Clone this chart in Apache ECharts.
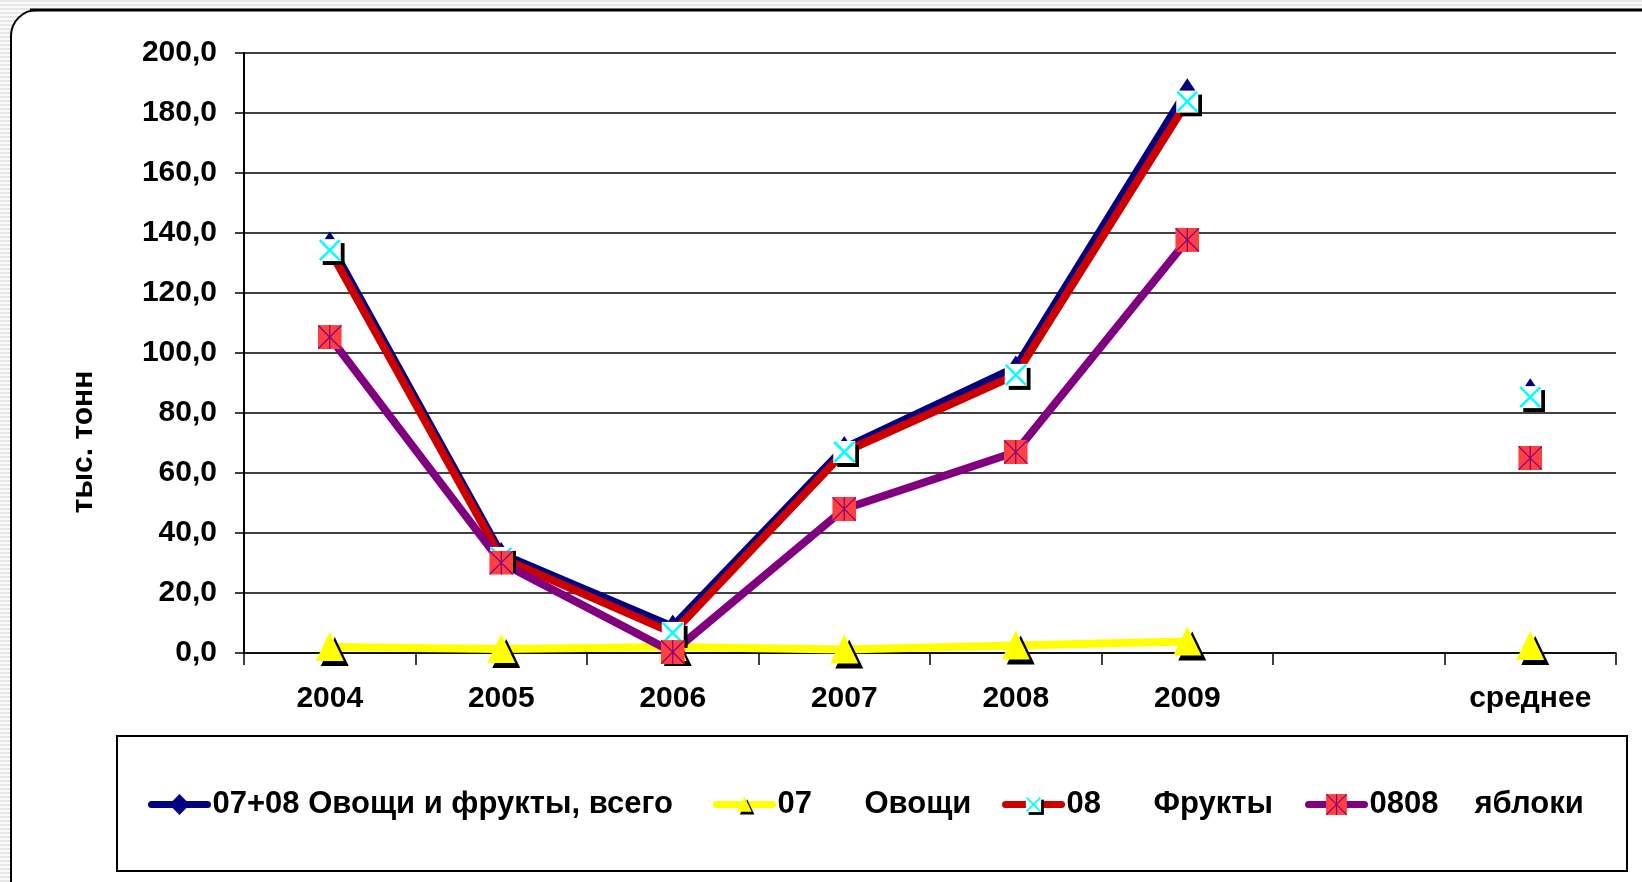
<!DOCTYPE html>
<html>
<head>
<meta charset="utf-8">
<script src="https://cdn.jsdelivr.net/npm/echarts@6/dist/echarts.min.js"></script>
<style>
  html, body { margin: 0; padding: 0; }
  body {
    background: repeating-linear-gradient(180deg, #e6e6e6 0px, #e6e6e6 2px, #fafafa 2px, #fafafa 4px);
  }
  #chart { width: 1642px; height: 882px; }
</style>
</head>
<body>
<div id="chart"></div>
<script>
// values, тыс. тонн
const categories = ['2004', '2005', '2006', '2007', '2008', '2009', '', 'среднее'];
const totalVals = [136.5, 33.0, 8.8, 68.3, 95.2, 187.6, null, 87.6];
const vegVals = [2.0, 1.3, 2.0, 1.2, 2.5, 3.8, null, 2.3];
const fruitVals = [134.3, 31.7, 6.7, 67.0, 92.7, 183.8, null, 85.3];
const appleVals = [105.3, 30.1, 0.3, 48.0, 67.0, 137.7, null, 65.0];
const seriesNames = ['07+08 Овощи и фрукты, всего', '07 Овощи', '08 Фрукты', '0808 яблоки'];

const font = 'Arial, "Liberation Sans", sans-serif';

function svgSymbol(svg) {
  return 'image://data:image/svg+xml;charset=utf-8,' + encodeURIComponent(svg);
}

// excel-like markers
const fruitMark = svgSymbol(
  '<svg xmlns="http://www.w3.org/2000/svg" width="30" height="30">' +
  '<rect x="8" y="8" width="22" height="22" fill="#000"/>' +
  '<rect x="4" y="4" width="22" height="22" fill="#fff"/>' +
  '<path d="M5 5L25 25M25 5L5 25" stroke="#00ffff" stroke-width="2.5"/></svg>');
const appleMark = svgSymbol(
  '<svg xmlns="http://www.w3.org/2000/svg" width="24" height="24">' +
  '<rect width="24" height="24" fill="#ff4040"/>' +
  '<path d="M0 0L24 24M24 0L0 24M12 0V24" stroke="#800080" stroke-width="1.2"/></svg>');
const vegMark = svgSymbol(
  '<svg xmlns="http://www.w3.org/2000/svg" width="40" height="40">' +
  '<path d="M25 10L39 39H11Z" fill="#000"/>' +
  '<path d="M20 5L34 34H6Z" fill="#ffff00"/></svg>');

const myChart = echarts.init(document.getElementById('chart'));

function legendAt(name, left, codeWidth) {
  return {
    data: [name],
    left: left,
    top: 789,
    padding: 0,
    itemWidth: 56,
    itemHeight: 26,
    itemGap: 5,
    lineStyle: { width: 7, cap: 'round' },
    formatter: function (n) {
      if (!codeWidth) return n;
      const parts = n.split(' ');
      return '{c|' + parts[0] + '}{n|' + parts.slice(1).join(' ') + '}';
    },
    textStyle: {
      fontFamily: font,
      fontSize: 31,
      fontWeight: 'bold',
      color: '#000',
      rich: {
        c: { width: codeWidth || 0, fontFamily: font, fontSize: 31, fontWeight: 'bold', color: '#000' },
        n: { fontFamily: font, fontSize: 31, fontWeight: 'bold', color: '#000' }
      }
    }
  };
}

const option = {
  animation: false,
  backgroundColor: 'transparent',
  graphic: [
    {
      type: 'rect', z: -10, silent: true,
      shape: { x: 11, y: 10, width: 1700, height: 900, r: 26 },
      style: { fill: '#fff', stroke: '#000', lineWidth: 2 }
    },
    {
      type: 'line', z: -9, silent: true,
      shape: { x1: 30, y1: 10, x2: 1642, y2: 10 },
      style: { stroke: '#000', lineWidth: 3 }
    },
    {
      type: 'rect', z: -8, silent: true,
      shape: { x: 117, y: 736, width: 1510, height: 135 },
      style: { fill: 'none', stroke: '#000', lineWidth: 2 }
    },
    {
      type: 'text', silent: true,
      x: 84, y: 442, rotation: Math.PI / 2,
      style: {
        text: 'тыс. тонн',
        fontFamily: font, fontSize: 30, fontWeight: 'bold', fill: '#000',
        align: 'center', verticalAlign: 'middle'
      }
    }
  ],
  legend: [
    legendAt(seriesNames[0], 148, 0),
    legendAt(seriesNames[1], 713, 87),
    legendAt(seriesNames[2], 1002, 87),
    legendAt(seriesNames[3], 1305, 105)
  ],
  grid: { left: 244, right: 26, top: 53, bottom: 229 },
  xAxis: {
    type: 'category',
    data: categories,
    boundaryGap: true,
    axisLine: { lineStyle: { color: '#000', width: 1.5 } },
    axisTick: { show: true, interval: 0, length: 12, lineStyle: { color: '#000', width: 1.5 } },
    axisLabel: {
      interval: 0, margin: 31,
      fontFamily: font, fontSize: 30, fontWeight: 'bold', color: '#000'
    },
    splitLine: { show: false }
  },
  yAxis: {
    type: 'value',
    min: 0, max: 200, interval: 20,
    axisLine: { show: true, lineStyle: { color: '#000', width: 2 } },
    axisTick: { show: true, length: 9, lineStyle: { color: '#000', width: 1.5 } },
    axisLabel: {
      margin: 27,
      fontFamily: font, fontSize: 30, fontWeight: 'bold', color: '#000',
      formatter: function (v) { return v.toFixed(1).replace('.', ','); }
    },
    splitLine: { lineStyle: { color: '#000', width: 1.5 } }
  },
  series: [
    {
      name: seriesNames[0], type: 'line', data: totalVals,
      connectNulls: false, symbol: 'diamond', symbolSize: [16, 24],
      itemStyle: { color: '#000080' },
      lineStyle: { color: '#000080', width: 8, cap: 'round' }
    },
    {
      name: seriesNames[1], type: 'line', data: vegVals,
      connectNulls: false, symbol: vegMark, symbolSize: 40,
      itemStyle: { color: '#ffff00' },
      lineStyle: { color: '#ffff00', width: 8, cap: 'round' }
    },
    {
      name: seriesNames[2], type: 'line', data: fruitVals,
      connectNulls: false, symbol: fruitMark, symbolSize: 30,
      itemStyle: { color: '#cc0000' },
      lineStyle: { color: '#cc0000', width: 8, cap: 'round' }
    },
    {
      name: seriesNames[3], type: 'line', data: appleVals,
      connectNulls: false, symbol: appleMark, symbolSize: 24,
      itemStyle: { color: '#800080' },
      lineStyle: { color: '#800080', width: 8, cap: 'round' }
    }
  ]
};

option && myChart.setOption(option);
</script>
</body>
</html>
